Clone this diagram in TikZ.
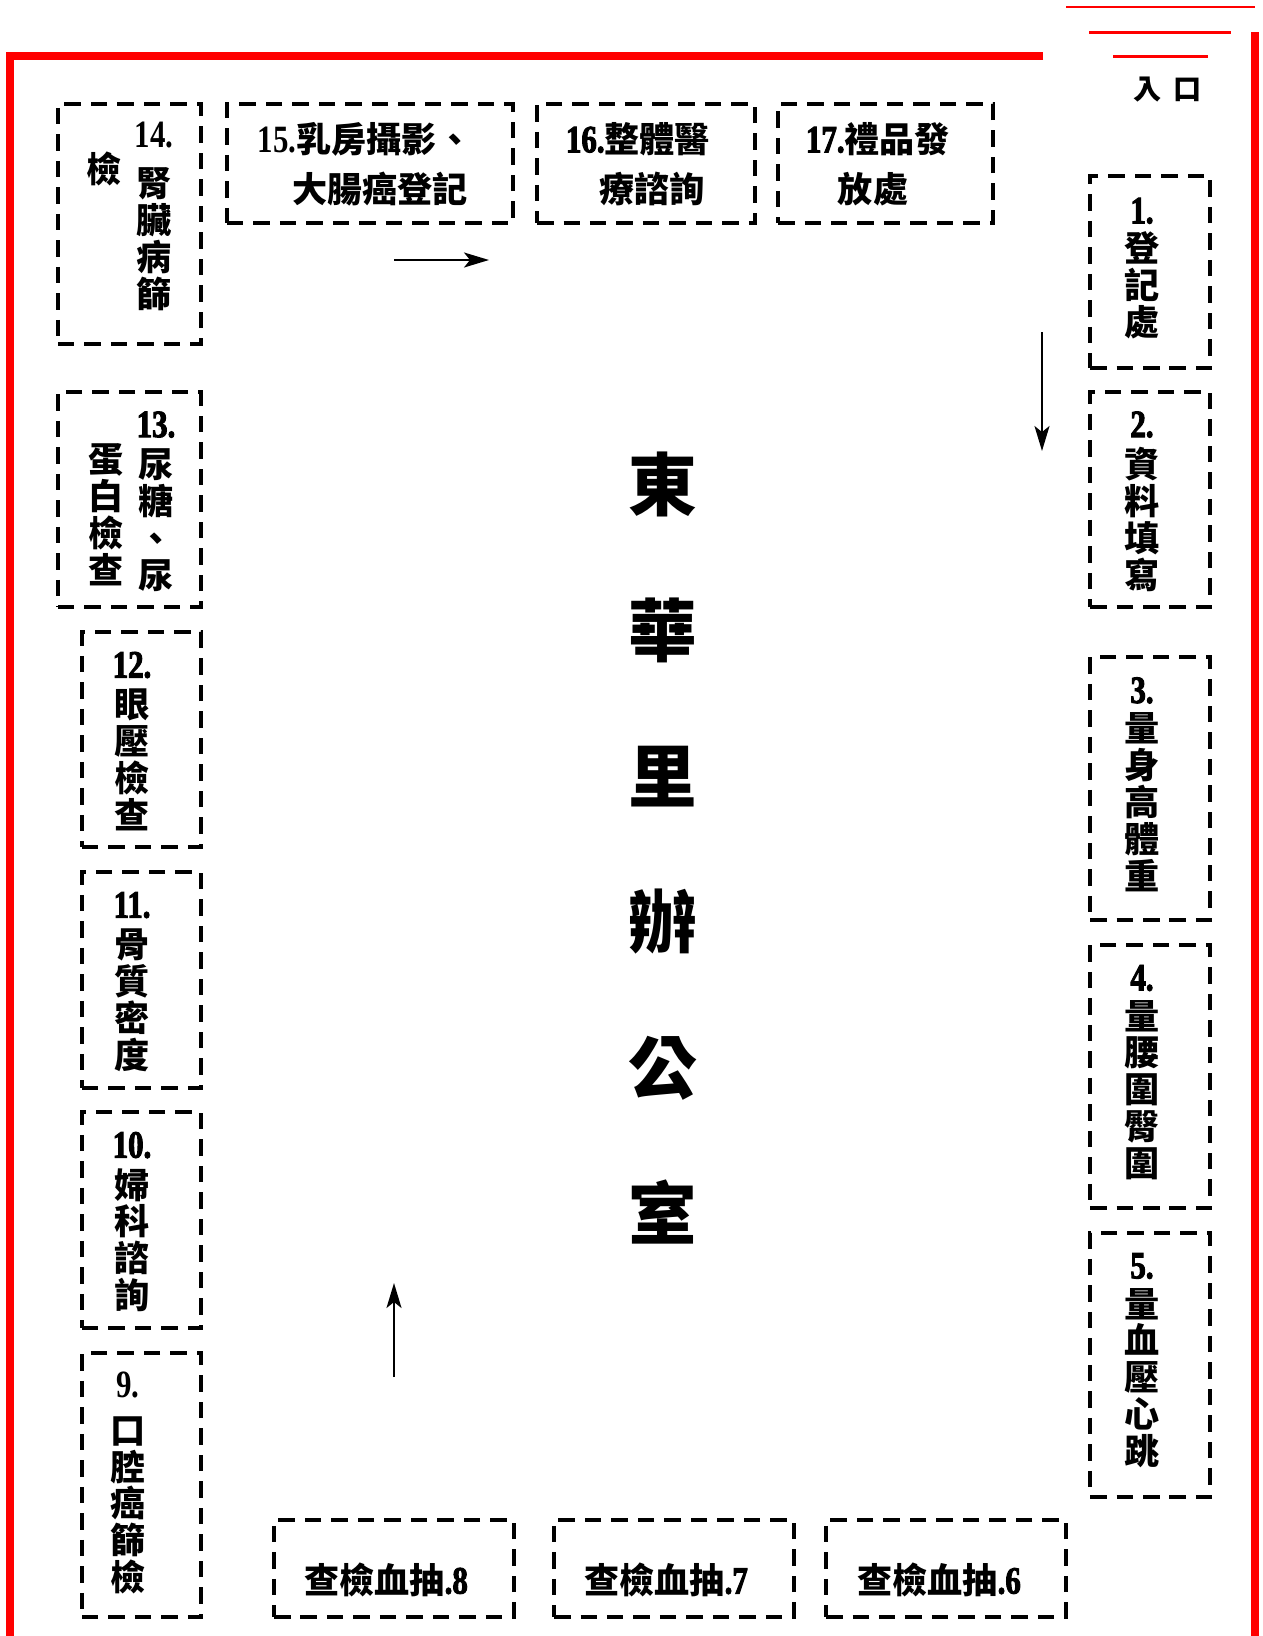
\documentclass[tikz,border=0pt]{standalone}
\usepackage{fontspec}
\usepackage{tikz}
\usetikzlibrary{arrows.meta, positioning, fit}
\newfontfamily\cjk{Noto Sans CJK TC}
\newfontfamily\numfont{Liberation Serif}[FakeStretch=0.8]
\newfontfamily\numbold{Liberation Serif}[FakeStretch=0.8, FakeBold=2.5]
\newcommand\nb[1]{{\numbold\fontsize{22pt}{21pt}\selectfont #1}}
\newcommand\nr[1]{{\numfont\fontsize{22pt}{21pt}\selectfont #1}}
\AtBeginDocument{\setlength{\lineskiplimit}{-20pt}}
\tikzset{
  booth/.style={draw, line width=0.07cm, dash pattern=on 0.33cm off 0.2cm,
                inner sep=0pt},
  lbl/.style={align=center, inner sep=0pt,
              font=\cjk\bfseries\fontsize{20pt}{21pt}\selectfont},
  door/.style={lbl, font=\cjk\bfseries\fontsize{16pt}{18pt}\selectfont},
  office/.style={align=center, inner sep=0pt,
                 font=\cjk\bfseries\fontsize{39pt}{83pt}\selectfont},
  wall/.style={red, line width=0.15cm},
  thinwall/.style={red, line width=0.06cm},
  arr/.style={-{Stealth[length=0.5cm, width=0.3cm, inset=0.12cm]}, line width=0.04cm},
}

\begin{document}
\begin{tikzpicture}[x=0.02cm, y=-0.02cm]
  \useasboundingbox (0,0) rectangle (1263,1636);
  % walls and entrance
  \draw[wall] (1043,56) -- (10,56) -- (10,1636);
  \draw[wall] (1255,32) -- (1255,1636);
  \draw[thinwall] (1066,7) -- (1255,7);
  \draw[thinwall] (1089,32) -- (1231,32);
  \draw[thinwall] (1113,56) -- (1208,56);
  \node[door] (entry) at (1168,90) {入\hspace{0.24cm}口};

  % booths, top row
  \node[booth, fit={(58,104) (201,344)}] (k14) {};
  \node[booth, fit={(227,104) (513,223)}] (k15) {};
  \node[booth, fit={(537,104) (755,223)}] (k16) {};
  \node[booth, fit={(778,104) (993,223)}] (k17) {};
  % booths, left column
  \node[booth, fit={(58,392) (201,607)}] (k13) {};
  \node[booth, fit={(82,632) (201,847)}] (k12) {};
  \node[booth, fit={(82,872) (201,1088)}] (k11) {};
  \node[booth, fit={(82,1112) (201,1328)}] (k10) {};
  \node[booth, fit={(82,1353) (201,1617)}] (k9) {};
  % booths, bottom row
  \node[booth, fit={(274,1520) (514,1617)}] (k8) {};
  \node[booth, fit={(554,1520) (794,1617)}] (k7) {};
  \node[booth, fit={(826,1520) (1066,1617)}] (k6) {};
  % booths, right column
  \node[booth, fit={(1090,176) (1210,368)}] (k1) {};
  \node[booth, fit={(1090,392) (1210,607)}] (k2) {};
  \node[booth, fit={(1090,657) (1210,920)}] (k3) {};
  \node[booth, fit={(1090,945) (1210,1208)}] (k4) {};
  \node[booth, fit={(1090,1233) (1210,1497)}] (k5) {};

  % labels
  \node[lbl] (t14) at (154,216.5) {\nr{14.}\\[7pt]腎\\臟\\病\\篩};
  \node[lbl] (t14b) at (104,169) {檢};
  \node[lbl] (t15a) at (365,139) {\nr{15.}乳房攝影、};
  \node[lbl] (t15b) at (380,189) {大腸癌登記};
  \node[lbl] (t16a) at (638,139) {\nb{16.}整體醫};
  \node[lbl] (t16b) at (652,189) {療諮詢};
  \node[lbl] (t17a) at (878,139) {\nb{17.}禮品發};
  \node[lbl] (t17b) at (873,189) {放處};
  \node[lbl] (t13) at (156,501.5) {\nb{13.}\\[2pt]尿\\糖\\、\\尿};
  \node[lbl] (t13b) at (106,515) {蛋\\白\\檢\\查};
  \node[lbl] (t12) at (132,741.5) {\nb{12.}\\[2pt]眼\\壓\\檢\\查};
  \node[lbl] (t11) at (132,982) {\nb{11.}\\[2pt]骨\\質\\密\\度};
  \node[lbl] (t10) at (132,1222) {\nb{10.}\\[2pt]婦\\科\\諮\\詢};
  \node[lbl] (t9) at (128,1483) {\nr{9.}\\[5pt]口\\腔\\癌\\篩\\檢};
  \node[lbl] (t8) at (386,1580) {查檢血抽\nb{.8}};
  \node[lbl] (t7) at (666,1580) {查檢血抽\nb{.7}};
  \node[lbl] (t6) at (939,1580) {查檢血抽\nb{.6}};
  \node[lbl] (t1) at (1142,268.5) {\nb{1.}\\[1pt]登\\記\\處};
  \node[lbl] (t2) at (1142,501.5) {\nb{2.}\\[2pt]資\\料\\填\\寫};
  \node[lbl] (t3) at (1142,784.5) {\nb{3.}\\[1pt]量\\身\\高\\體\\重};
  \node[lbl] (t4) at (1142,1072.5) {\nb{4.}\\[1pt]量\\腰\\圍\\臀\\圍};
  \node[lbl] (t5) at (1142,1360.5) {\nb{5.}\\[1pt]量\\血\\壓\\心\\跳};
  \node[office] (hall) at (663,848) {東\\華\\里\\辦\\公\\室};

  % flow arrows
  \coordinate (r1) at (394,260);
  \coordinate (r2) at (489,260);
  \coordinate (d1) at (1042,332);
  \coordinate (d2) at (1042,451);
  \coordinate (u1) at (394,1377);
  \coordinate (u2) at (394,1283);
  \draw[arr] (r1) -- (r2);
  \draw[arr] (d1) -- (d2);
  \draw[arr] (u1) -- (u2);
\end{tikzpicture}
\end{document}
